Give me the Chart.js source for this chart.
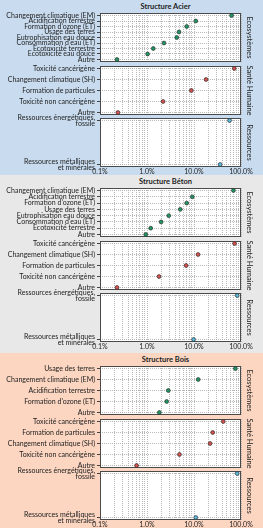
<!DOCTYPE html>
<html>
<head>
<meta charset="utf-8">
<script src="https://cdn.jsdelivr.net/npm/chart.js@4.4.0/dist/chart.umd.min.js"></script>
<style>
body{margin:0;width:263px;height:528px;overflow:hidden;position:relative;background:#fff;}
.sec{position:absolute;left:0;width:263px;}
.ttl{position:absolute;left:0;width:331px;text-align:center;font:bold 7.5px Lato,sans-serif;color:#222;}
canvas{position:absolute;left:0;}
</style>
</head>
<body>
<script>
// --- data (shares in %) ---
const panelNames = ['Ecosystèmes', 'Santé Humaine', 'Ressources'];
const majorTicks = [0.1, 1, 10, 100];
const tickLabels = ['0.1%', '1.0%', '10.0%', '100.0%'];

const ecoLabelsAcier = ['Changement climatique (EM)', 'Acidification terrestre', "Formation d'ozone (ET)", 'Usage des terres',
  'Eutrophisation eau douce', "Consommation d'eau (ET)", 'Ecotoxicité terrestre', 'Ecotoxicité eau douce', 'Autre'];
const ecoValuesAcier = [63, 10.9, 7.0, 4.8, 4.3, 2.3, 1.36, 1.03, 0.23];
const santeLabelsAcier = ['Toxicité cancérigène', 'Changement climatique (SH)', 'Formation de particules', 'Toxicité non cancérigène', 'Autre'];
const santeValuesAcier = [72, 18, 8.8, 2.2, 0.24];
const resLabels = [['Ressources énergétiques,', 'fossile'], ['Ressources métalliques', 'et minérales']];
const resValuesAcier = [57, 36];

const ecoLabelsBeton = ['Changement climatique (EM)', 'Acidification terrestre', "Formation d'ozone (ET)", 'Usage des terres',
  'Eutrophisation eau douce', "Consommation d'eau (ET)", 'Ecotoxicité terrestre', 'Autre'];
const ecoValuesBeton = [69, 9.2, 7.0, 5.1, 2.9, 2.0, 1.2, 0.94];
const santeLabelsBeton = ['Toxicité cancérigène', 'Changement climatique (SH)', 'Formation de particules', 'Toxicité non cancérigène', 'Autre'];
const santeValuesBeton = [73, 12.2, 6.8, 1.8, 0.23];
const resValuesBeton = [83, 9.8];

const ecoLabelsBois = ['Usage des terres', 'Changement climatique (EM)', 'Acidification terrestre', "Formation d'ozone (ET)", 'Autre'];
const ecoValuesBois = [76, 12.3, 2.84, 2.62, 1.83];
const santeLabelsBois = ['Toxicité cancérigène', 'Formation de particules', 'Changement climatique (SH)', 'Toxicité non cancérigène', 'Autre'];
const santeValuesBois = [42, 25, 22, 4.9, 0.6];
const resValuesBois = [83, 10.9];

const sections = [
  {title: 'Structure Acier', bg: '#c9dcef', top: 0, h: 175,
   panels: [[ecoLabelsAcier, ecoValuesAcier], [santeLabelsAcier, santeValuesAcier], [resLabels, resValuesAcier]]},
  {title: 'Structure Béton', bg: '#e8e8e8', top: 175, h: 178,
   panels: [[ecoLabelsBeton, ecoValuesBeton], [santeLabelsBeton, santeValuesBeton], [resLabels, resValuesBeton]]},
  {title: 'Structure Bois', bg: '#fcd6c1', top: 353, h: 175,
   panels: [[ecoLabelsBois, ecoValuesBois], [santeLabelsBois, santeValuesBois], [resLabels, resValuesBois]]}
];

const dotColors = ['#1f9a64', '#d9534f', '#5bbde0'];
const FONT = 'Lato, sans-serif';
const panelTops = [13, 66, 118];
const panelH = 49;
const M = 10;

// grid positions for the log axis: 1..9 per decade
const gridTicks = [];
[0.1, 1, 10].forEach(d => { for (let k = 1; k < 10; k++) gridTicks.push(+(k * d).toFixed(1)); });
gridTicks.push(100);

const framePlugin = {
  id: 'frame',
  beforeDraw(c) {
    const a = c.chartArea, ctx = c.ctx;
    ctx.save();
    ctx.fillStyle = '#fff';
    ctx.fillRect(a.left, a.top, a.width, a.height);
    ctx.restore();
  },
  beforeDatasetsDraw(c) {
    const a = c.chartArea, ctx = c.ctx;
    ctx.save();
    ctx.strokeStyle = '#4a4a4a';
    ctx.lineWidth = 1;
    ctx.strokeRect(Math.round(a.left) + 0.5, Math.round(a.top) + 0.5, Math.round(a.width) - 1, Math.round(a.height) - 1);
    ctx.restore();
  }
};

function makePanel(sec, i, labels, values) {
  const last = i === 2;
  const cv = document.createElement('canvas');
  cv.width = 263;
  cv.height = panelH + 2 * M;
  cv.style.top = (sec.top + panelTops[i] - M) + 'px';
  document.body.appendChild(cv);
  const n = labels.length;
  const pad = 2.5 * (n - 1) / (panelH - 5);
  new Chart(cv, {
    type: 'scatter',
    data: {
      datasets: [{
        data: values.map((v, k) => ({x: v, y: k})),
        backgroundColor: dotColors[i],
        borderColor: '#2a2a2a',
        borderWidth: 0.7,
        pointRadius: 1.9,
        clip: false
      }]
    },
    options: {
      responsive: false,
      animation: false,
      events: [],
      layout: {padding: {top: M, bottom: last ? 0 : M, left: 0, right: 0}},
      plugins: {legend: {display: false}, tooltip: {enabled: false}},
      scales: {
        x: {
          type: 'logarithmic', min: 0.1, max: 100,
          afterBuildTicks: s => { s.ticks = gridTicks.map(v => ({value: v, major: majorTicks.includes(v)})); },
          afterFit: s => { s.height = last ? M : 0; },
          grid: {color: '#a8a8a8', lineWidth: 0.8, drawTicks: false},
          border: {display: false, dash: [1, 1]},
          ticks: {
            display: last, autoSkip: false, maxRotation: 0, padding: 1,
            font: {family: FONT, size: 7}, color: '#222',
            callback: v => { const k = majorTicks.indexOf(v); return k < 0 ? '' : tickLabels[k]; }
          }
        },
        y: {
          type: 'linear', reverse: true, min: -pad, max: n - 1 + pad,
          afterBuildTicks: s => { s.ticks = labels.map((l, k) => ({value: k})); },
          afterFit: s => { s.width = 100; },
          grid: {color: '#a8a8a8', lineWidth: 0.8, tickLength: 3, tickColor: '#444', tickWidth: 1},
          border: {display: false, dash: [1, 1]},
          ticks: {autoSkip: false, padding: 2, font: {family: FONT, size: 7, lineHeight: 0.8}, color: '#222', callback: v => labels[v]}
        },
        yr: {
          position: 'right',
          afterFit: s => { s.width = 22; },
          grid: {display: false},
          border: {display: false},
          ticks: {display: false},
          title: {display: true, text: panelNames[i], color: '#222', font: {family: FONT, size: 7.5}, padding: {top: 9, bottom: 0}}
        }
      }
    },
    plugins: [framePlugin]
  });
}

sections.forEach(sec => {
  const bg = document.createElement('div');
  bg.className = 'sec';
  bg.style.top = sec.top + 'px';
  bg.style.height = sec.h + 'px';
  bg.style.background = sec.bg;
  document.body.appendChild(bg);
  const t = document.createElement('div');
  t.className = 'ttl';
  t.style.top = (sec.top + 2) + 'px';
  t.textContent = sec.title;
  document.body.appendChild(t);
});
sections.forEach(sec => sec.panels.forEach((p, i) => makePanel(sec, i, p[0], p[1])));
</script>
</body>
</html>
